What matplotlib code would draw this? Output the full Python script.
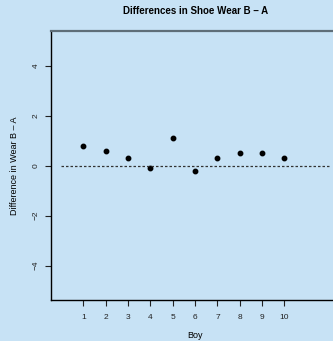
import matplotlib
matplotlib.use('Agg')
from matplotlib import pyplot as plt

# shoe wear differences (B - A) per boy
boys = [1, 2, 3, 4, 5, 6, 7, 8, 9, 10]
diffs = [0.8, 0.6, 0.3, -0.1, 1.1, -0.2, 0.3, 0.5, 0.5, 0.3]
yticks = [-4, -2, 0, 2, 4]

plt.rcParams['font.family'] = ['Liberation Sans', 'DejaVu Sans']
bg = '#c7e2f5'

fig = plt.figure(figsize=(3.33, 3.41), dpi=100, facecolor=bg)
ax = fig.add_axes([0.152, 0.120, 0.870, 0.789])
ax.set_facecolor(bg)

ax.plot(boys, diffs, 'o', color='black', markersize=3.2)
ax.plot([0, 12], [0, 0], linestyle=(0, (2, 1.6)), color='#333333', linewidth=0.9)

ax.set_xlim(-0.47, 12.5)
ax.set_ylim(-5.38, 5.38)
ax.set_xticks(boys)
ax.set_yticks(yticks)
ax.set_yticklabels([str(v).replace('-', '\u2212') for v in yticks], rotation=90, va='center')
ax.tick_params(axis='both', direction='out', length=4, width=0.8, labelsize=6, colors='#222222')
ax.tick_params(axis='x', pad=6)
ax.tick_params(axis='y', pad=4)

ax.spines['right'].set_visible(False)
ax.spines['top'].set_color('#5f6e78')
ax.spines['top'].set_linewidth(1.6)
ax.spines['left'].set_linewidth(1.0)
ax.spines['bottom'].set_linewidth(1.0)

ax.set_xlabel('Boy', fontsize=6.5, labelpad=7)
ax.set_ylabel('Difference in Wear B \u2013 A', fontsize=6.5, labelpad=10)
ax.set_title('Differences in Shoe Wear B \u2013 A', fontsize=7, fontweight='bold', pad=12)

fig.savefig('out.png', dpi=100, facecolor=bg)
